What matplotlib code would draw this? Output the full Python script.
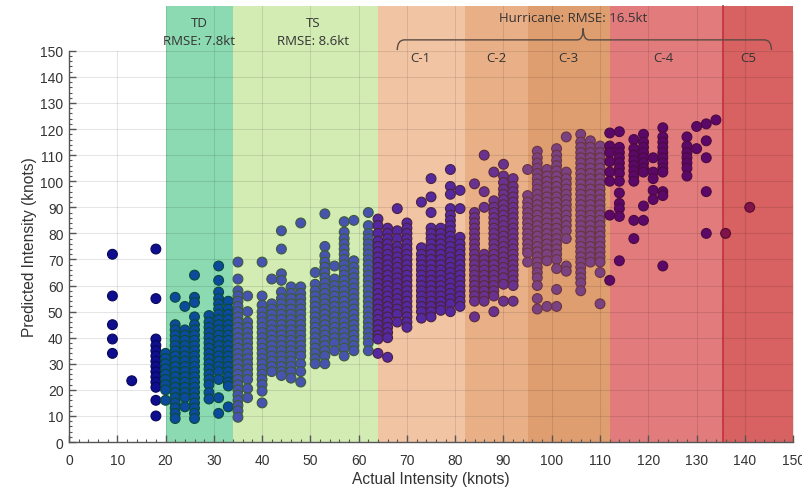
import matplotlib
matplotlib.use("Agg")
import matplotlib.pyplot as plt
from matplotlib.path import Path
from matplotlib.patches import PathPatch, Rectangle
import numpy as np

# ---------------- data ----------------
columns = {
    9: [72, 56, 45, 39.5, 34],
    13: [23.5],
    18: [74, 55, 39.5, 37, 35, 33, 31, 29, 27, 25, 23, 21, 16, 10],
    20: [34, 32, 30, 28, 26, 24, 22, 20, 16],
    22: [55.5, 45, 43, 41, 39, 37, 35, 33, 31, 29, 27, 25, 23, 21, 19, 17, 15, 13, 11, 9],
    24: [52, 43, 41, 39, 37, 35, 33, 31, 29, 27, 25, 23, 21, 19, 17, 13.5],
    26: [64, 55.5, 53.5, 48, 45, 43, 41, 39, 37, 35, 33, 31, 29, 27, 25, 23, 21, 19, 17, 15, 13, 11, 9],
    29: [48.5, 46, 44, 42, 40, 38, 36, 34, 32, 30, 28, 26, 24, 22, 19, 16.5],
    31: [67.5, 62, 57.5, 55, 53, 51, 49, 47, 45, 43, 41, 39, 37, 35, 33, 31, 29, 27, 24, 17, 11],
    33: [54, 51, 49, 47, 45, 43, 41, 39, 37, 35, 33, 31, 29, 27, 25, 23, 21.5, 13.5],
    35: [69, 62.5, 58, 56, 54, 52, 50, 48, 46, 44, 42, 40, 38, 36, 34, 32, 30, 28, 26, 24, 22, 20, 18, 16, 14, 12, 9.5],
    37: [56, 50, 46, 44, 42, 40, 38, 36, 34, 32, 30, 28, 26, 24, 20.5, 17],
    40: [69, 56, 52.5, 50, 48, 46, 44, 42, 40, 38, 36, 34, 32, 30, 28, 26, 24, 22, 19.5, 15],
    42: [62.5, 53, 51, 49, 47, 45, 43, 41, 39, 37, 35, 33, 31, 29, 27],
    44: [81, 74, 64.5, 62, 57.5, 55, 53, 51, 49, 47, 45, 43, 41, 39, 37, 35, 33, 31, 29, 27, 25.5],
    46: [59.5, 57, 55, 53, 51, 49, 47, 45, 43, 41, 39, 37, 35, 33, 31, 29, 27, 24.5],
    48: [84, 59.5, 57, 55, 53, 51, 49, 47, 45, 43, 41, 39, 37, 35, 33, 30, 27, 23],
    51: [65, 60.5, 58, 56, 54, 52, 50, 48, 46, 44, 42, 40, 38, 36, 34, 32, 30],
    53: [87.5, 75, 71.5, 69, 67, 65, 63, 61, 59, 57, 55, 53, 51, 49, 47, 45, 43, 41, 39, 37, 35, 33, 30],
    55: [67.5, 62.5, 60, 58, 56, 54, 52, 50, 48, 46, 44, 42, 40, 38, 35],
    57: [84.5, 80.5, 78, 76, 74, 72, 70, 68, 66, 64, 62, 60, 58, 56, 54, 52, 50, 48, 46, 44, 42, 40, 38, 36, 33],
    59: [85, 69.5, 67, 65, 63, 61, 59, 57, 55, 53, 51, 49, 47, 45, 43, 41, 39, 37, 35],
    62: [88, 83, 80, 78, 76, 74, 72, 70, 68, 66, 64, 62, 60, 58, 56, 54, 52, 50, 48, 46, 44, 42, 40, 38, 35],
    64: [85.5, 83, 80, 77, 75, 73, 71, 69, 67, 65, 63, 61, 59, 57, 55, 53, 51, 49, 47, 45, 43, 41, 39.5, 34],
    66: [82, 80, 78, 76, 74, 72, 70, 68, 66, 64, 62, 60, 58, 56, 54, 52, 50, 48, 46, 44, 42, 40, 32.5],
    68: [89.5, 81, 78, 75, 73, 71, 69, 67, 65, 63, 61, 59, 57, 55, 53, 51, 49, 46],
    70: [84, 82, 80, 78, 76, 74, 72, 70, 68, 66, 64, 62, 60, 58, 56, 54, 52, 50, 48, 46, 44],
    73: [92, 74.5, 72, 70, 68, 66, 64, 62, 60, 58, 56, 54, 52, 50, 47.5],
    75: [101, 94, 88, 82, 80, 78, 76, 74, 72, 70, 68, 66, 64, 62, 60, 58, 56, 54, 52, 50, 48],
    77: [82, 80, 78, 76, 74, 72, 70, 68, 66, 64, 62, 60, 58, 56, 54, 52, 50.5],
    79: [104.5, 98, 95, 89.5, 87, 85, 83, 81, 79, 77, 75, 73, 71, 69, 67, 65, 63, 61, 59, 57, 55, 53, 50],
    81: [96.5, 89.5, 78.5, 76, 74, 72, 70, 68, 66, 64, 62, 60, 58, 56, 54, 52],
    84: [99, 88, 86, 84, 82, 80, 78, 76, 74, 72, 70, 68, 66, 64, 62, 60, 58, 56, 54, 48],
    86: [110, 96, 90, 72, 70, 68, 66, 64, 62, 60, 58, 56, 54],
    88: [103.5, 92.5, 90, 88, 86, 84, 82, 80, 78, 76, 74, 72, 70, 68, 66, 64, 62, 60, 58, 56, 50],
    90: [106.5, 102, 99.5, 97, 95, 93, 91, 89, 87, 85, 83, 81, 79, 77, 75, 73, 71, 69, 67, 65, 63, 60.5, 54],
    92: [101, 98, 96, 94, 92, 90, 88, 86, 84, 82, 80, 78, 76, 74, 72, 70, 68, 66, 64, 62, 60, 54],
    95: [104.5, 94.5, 92, 90, 88, 86, 84, 82, 80, 78, 76, 74, 72.5, 69],
    97: [111.5, 109, 107, 105, 103, 101, 99, 97, 95, 93, 91, 89, 87, 85, 83, 81, 79, 77, 75, 73, 71, 69, 67, 65, 63, 60, 55, 51],
    99: [104.5, 102, 100, 98, 96, 94, 92, 90, 88, 86, 84, 82, 80, 78, 76, 74, 72, 69.5, 52],
    101: [112.5, 110, 108, 106, 104, 102, 100, 98, 96, 94, 92, 90, 88, 86, 84, 82, 80, 78, 76, 74, 72, 70, 66.5, 58.5, 52],
    103: [117, 103.5, 101, 99, 97, 95, 93, 91, 89, 87, 85, 83, 81, 78, 67.5, 65.5],
    106: [118, 115, 113, 111, 109, 107, 105, 103, 101, 99, 97, 95, 93, 91, 89, 87, 85, 83, 81, 79, 77, 75, 73, 71, 69, 67, 65, 63, 61, 58],
    108: [115.5, 113, 111, 109, 107, 105, 103, 101, 99, 97, 95, 93, 91, 89, 87, 85, 83, 81, 79, 77, 75, 73, 71, 69],
    110: [113.5, 111, 109, 107, 105, 103, 101, 99, 97, 95, 93, 91, 89, 87, 85, 83, 81, 79, 77, 75, 73, 71, 69, 65, 53],
    112: [118.5, 113.5, 111, 107.5, 103.5, 100, 87, 62],
    114: [119, 113, 111, 109, 107, 105, 103, 100, 95.5, 91.5, 89.5, 86.5, 69.5],
    117: [116, 112.5, 110, 108, 106, 104, 102, 100, 85, 78],
    119: [118, 115, 113, 111, 109, 107, 105, 103.5, 90.5, 85],
    121: [109, 103.5, 101, 96.5, 93],
    123: [120.5, 117, 115, 113, 111, 109, 107, 105, 103.5, 96, 94.5, 67.5],
    128: [117, 113.5, 111, 109, 107, 105, 102],
    130: [121, 112.5],
    132: [122, 115.5, 109, 96, 80],
    134: [123.5],
    136: [80],
    141: [90],
}

band_names = ["TD", "TS", "C-1", "C-2", "C-3", "C-4", "C5"]
band_edges = [20, 34, 64, 82, 95, 112, 135.5, 150]
band_rmse = {"TD": "RMSE: 7.8kt", "TS": "RMSE: 8.6kt"}
hurricane_label = "Hurricane: RMSE: 16.5kt"

# ---------------- styles ----------------
band_colors = ["#8cdab2", "#d3ecb4", "#f1c4a4", "#e9b088", "#df9e70", "#e27c7c", "#d86262"]
outside_face, outside_edge = "#0e0e8e", "#08085a"
marker_face = ["#0b4a9c", "#4654b0", "#54289e", "#6a3290", "#7a4282", "#5c0868", "#7e1448"]
marker_edge = ["#0a4a3a", "#3e5a3a", "#4a2240", "#5a2a3a", "#6a3440", "#4a0a40", "#5a0a30"]

xs, ys = [], []
for x, vals in columns.items():
    for v in vals:
        xs.append(x)
        ys.append(v)
xs = np.array(xs, float)
ys = np.array(ys, float)

def band_index(x):
    for i in range(len(band_names)):
        if band_edges[i] <= x < band_edges[i + 1]:
            return i
    return -1

fc, ec = [], []
for x in xs:
    i = band_index(x)
    if i < 0:
        fc.append(outside_face); ec.append(outside_edge)
    else:
        fc.append(marker_face[i]); ec.append(marker_edge[i])

fig = plt.figure(figsize=(8.02, 4.89), dpi=100)
ax = fig.add_axes([0.086, 0.094, 0.903, 0.800])
ax.set_xlim(0, 150)
ax.set_ylim(0, 150)

TOP = 167
for i, name in enumerate(band_names):
    ax.add_patch(Rectangle((band_edges[i], 0), band_edges[i + 1] - band_edges[i], TOP,
                           facecolor=band_colors[i], edgecolor="none", zorder=0.5,
                           clip_on=False))
ax.plot([band_edges[6], band_edges[6]], [0, TOP], color="#c2303a", lw=1.2,
        zorder=1.2, clip_on=False)

# grid
for g in range(10, 151, 10):
    ax.plot([0, 150], [g, g], color="black", alpha=0.10, lw=0.8, zorder=1)
    top = TOP if 20 <= g < 150 else 150
    ax.plot([g, g], [0, top], color="black", alpha=0.10, lw=0.8, zorder=1, clip_on=False)

ax.scatter(xs, ys, s=50, c=fc, edgecolors=ec, linewidths=0.8, zorder=3)

# ticks / spines
for s in ["top", "right"]:
    ax.spines[s].set_visible(False)
for s in ["left", "bottom"]:
    ax.spines[s].set_color("#555555")
    ax.spines[s].set_linewidth(1.0)
ax.set_xticks(np.arange(0, 151, 10))
ax.set_yticks(np.arange(0, 151, 10))
ax.set_xticks(np.arange(0, 151, 2), minor=True)
ax.set_yticks(np.arange(0, 151, 2), minor=True)
ax.tick_params(which="both", direction="in", color="#555555")
ax.tick_params(which="major", length=5, width=1)
ax.tick_params(which="minor", length=2.5, width=0.8)
ax.tick_params(axis="x", which="major", pad=8)
ax.tick_params(axis="y", which="major", pad=4)
for lab in ax.get_xticklabels() + ax.get_yticklabels():
    lab.set_fontfamily("Liberation Sans")
    lab.set_fontsize(10)
    lab.set_color("#333333")

ax.set_xlabel("Actual Intensity (knots)", fontfamily="Liberation Sans", fontsize=11.2,
              color="#333333", labelpad=3)
ax.set_ylabel("Predicted Intensity (knots)", fontfamily="Liberation Sans", fontsize=11.2,
              color="#333333", labelpad=2)

# annotations
afont = dict(fontfamily="Open Sans", fontsize=9.5, color="#333333", ha="center",
             va="center", zorder=5, clip_on=False)
ax.text(27, 160.7, "TD", **afont)
ax.text(27, 153.8, band_rmse["TD"], **afont)
ax.text(50.6, 160.7, "TS", **afont)
ax.text(50.6, 153.8, band_rmse["TS"], **afont)
ax.text(104.4, 162.6, hurricane_label, **afont)
for name, xc in zip(["C-1", "C-2", "C-3", "C-4", "C5"], [72.7, 88.6, 103.4, 123, 140.7]):
    ax.text(xc, 147.3, name, **afont)

yb, yl, ytip = 154.2, 150.3, 158.6
x0, xm, x1 = 68, 106.5, 145.5
verts = [(x0, yl), (x0, yb), (x0 + 1.5, yb), (xm - 1.2, yb), (xm, yb), (xm, ytip),
         (xm, yb), (xm + 1.2, yb), (x1 - 1.5, yb), (x1, yb), (x1, yl)]
codes = [Path.MOVETO, Path.CURVE3, Path.CURVE3, Path.LINETO, Path.CURVE3, Path.CURVE3,
         Path.CURVE3, Path.CURVE3, Path.LINETO, Path.CURVE3, Path.CURVE3]
ax.add_patch(PathPatch(Path(verts, codes), facecolor="none", edgecolor="#5a4a42",
                       lw=1.0, zorder=5, clip_on=False))

fig.savefig("out.png", dpi=100)
